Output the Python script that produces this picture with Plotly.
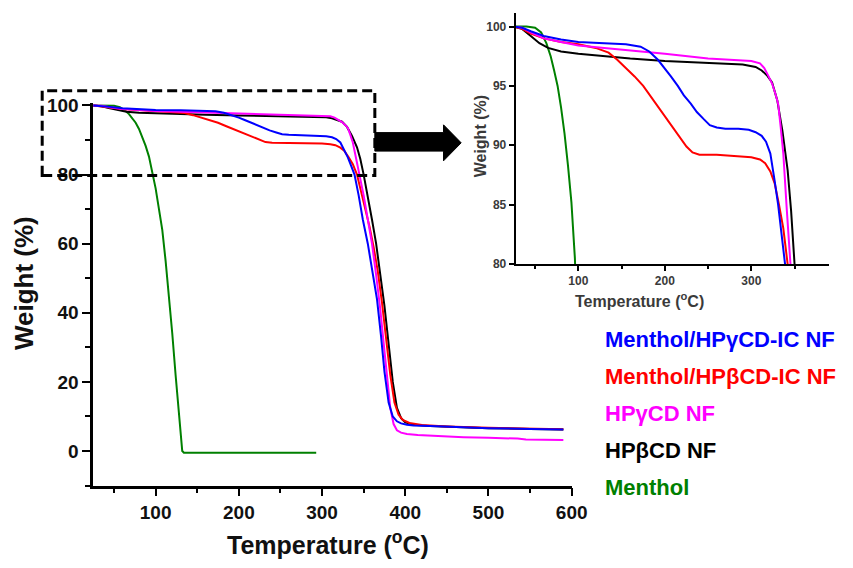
import plotly.graph_objects as go

W_PX, H_PX = 853, 568

# ---------------- data ----------------
menthol_T = [25, 40, 50, 57, 63, 68, 72, 76, 80, 84, 88, 92, 96, 100, 104, 108, 112,
             116, 120, 124, 128, 132, 134, 200, 293]
menthol_W = [100, 100, 99.9, 99.5, 98.6, 97.5, 96.3, 95.0, 93.2, 91.0, 88.3, 85.2, 80.5,
             76, 70, 64, 55, 45, 34, 22, 10, 0, -0.5, -0.5, -0.5]

hpb_T = [25, 35, 45, 55, 65, 80, 100, 130, 160, 200, 230, 260, 290, 305, 312, 318, 324,
         330, 336, 342, 346, 350, 355, 360, 365, 370, 375, 380, 385, 390, 395, 400, 410,
         430, 460, 500, 550, 590]
hpb_W = [100, 99.8, 99.2, 98.6, 98.2, 97.9, 97.7, 97.5, 97.3, 97.1, 97.0, 96.9, 96.8,
         96.6, 96.3, 95.9, 95.3, 93.8, 91.2, 87.9, 84.5, 80, 74, 67, 60, 51, 42, 31, 20,
         12.5, 9.5, 8.3, 7.6, 7.2, 6.9, 6.6, 6.4, 6.2]

hpg_T = [25, 35, 45, 60, 80, 100, 130, 160, 200, 250, 300, 310, 315, 320, 324, 328, 331,
         334, 337, 341, 345, 350, 355, 360, 365, 370, 375, 378, 382, 386, 390, 395, 402,
         415, 440, 470, 500, 535, 545, 590]
hpg_W = [100, 99.9, 99.5, 99.0, 98.7, 98.4, 98.2, 98.0, 97.7, 97.3, 97.1, 96.9, 96.5,
         95.8, 95.2, 94.3, 93.5, 91.5, 89.3, 84.6, 80, 74, 67, 60, 51, 41, 29, 21, 12.5,
         7.8, 6.0, 5.3, 4.9, 4.6, 4.3, 4.0, 3.8, 3.6, 3.3, 3.2]

icb_T = [25, 35, 45, 60, 80, 100, 120, 135, 145, 155, 165, 175, 185, 195, 205, 215, 225,
         232, 240, 260, 280, 300, 310, 316, 322, 327, 332, 337, 342, 347, 352, 357, 362,
         367, 372, 377, 382, 387, 392, 397, 405, 420, 450, 500, 550, 590]
icb_W = [100, 99.8, 99.4, 99.0, 98.7, 98.5, 98.2, 97.8, 97.2, 96.5, 95.8, 95.0, 94.0,
         93.0, 92.0, 91.0, 89.9, 89.4, 89.2, 89.2, 89.1, 89.0, 88.8, 88.5, 87.8, 86.8,
         85.0, 83.0, 80.0, 75, 70, 65, 59, 52, 43, 33, 22, 14, 10.5, 9.0, 8.1, 7.5, 7.1,
         6.7, 6.4, 6.3]

icg_T = [25, 35, 45, 60, 80, 100, 130, 155, 172, 182, 192, 200, 207, 215, 222, 230, 237,
         245, 252, 260, 270, 285, 297, 305, 312, 317, 322, 327, 331, 335, 339, 344, 349,
         355, 360, 366, 371, 375, 380, 385, 390, 395, 402, 410, 430, 460, 500, 550, 590]
icg_W = [100, 99.9, 99.6, 99.2, 98.9, 98.7, 98.6, 98.5, 98.3, 97.9, 97.2, 96.5, 95.8,
         95.0, 94.2, 93.5, 92.8, 92.2, 91.7, 91.5, 91.4, 91.4, 91.3, 91.1, 90.8, 90.3,
         89.3, 87.0, 85.0, 82.5, 80, 74, 67, 60, 53, 44, 33, 23, 14, 10, 8.6, 8.0, 7.6,
         7.4, 7.2, 6.9, 6.6, 6.4, 6.2]

legend_labels = ["Menthol/HPγCD-IC NF", "Menthol/HPβCD-IC NF", "HPγCD NF", "HPβCD NF", "Menthol"]
legend_colors = ["#0000ff", "#ff0000", "#ff00ff", "#000000", "#008000"]

main_x_ticks = [100, 200, 300, 400, 500, 600]
main_y_ticks = [0, 20, 40, 60, 80, 100]
inset_x_ticks = [100, 200, 300]
inset_y_ticks = [80, 85, 90, 95, 100]

series = [  # drawing order: back to front
    (menthol_T, menthol_W, "#008000"),
    (hpb_T, hpb_W, "#000000"),
    (icb_T, icb_W, "#ff0000"),
    (hpg_T, hpg_W, "#ff00ff"),
    (icg_T, icg_W, "#0000ff"),
]


def px(x):
    return x / W_PX


def py(y):
    return 1 - y / H_PX


fig = go.Figure()
for T, Wt, col in series:
    fig.add_trace(go.Scatter(x=T, y=Wt, mode="lines", line=dict(color=col, width=2),
                             xaxis="x", yaxis="y", hoverinfo="skip"))
for T, Wt, col in series:
    fig.add_trace(go.Scatter(x=T, y=Wt, mode="lines", line=dict(color=col, width=2),
                             xaxis="x2", yaxis="y2", hoverinfo="skip"))

FONT = "Liberation Sans, Arial, sans-serif"

main_tick_font = dict(family=FONT, size=19, color="#111111", weight="bold")
inset_tick_font = dict(family=FONT, size=12, color="#3a3a3a", weight="bold")

fig.update_layout(
    width=W_PX, height=H_PX, margin=dict(l=0, r=0, t=0, b=0),
    paper_bgcolor="white", plot_bgcolor="white", showlegend=False,
    xaxis=dict(domain=[px(95), px(582.6)], range=[25, 600], tickvals=main_x_ticks,
               ticks="outside", ticklen=8, tickwidth=2, tickcolor="black",
               showline=True, linecolor="black", linewidth=2.5, showgrid=False,
               zeroline=False, tickfont=main_tick_font, anchor="y",
               minor=dict(ticks="outside", ticklen=5, tickwidth=2, tickcolor="black",
                          tickvals=[50, 150, 250, 350, 450, 550], showgrid=False)),
    yaxis=dict(domain=[py(490.5), py(98)], range=[-10, 100.6], tickvals=main_y_ticks,
               ticks="outside", ticklen=8, tickwidth=2, tickcolor="black",
               showline=True, linecolor="black", linewidth=2.5, showgrid=False,
               zeroline=False, tickfont=main_tick_font, anchor="x",
               minor=dict(ticks="outside", ticklen=5, tickwidth=2, tickcolor="black",
                          tickvals=[-10, 10, 30, 50, 70, 90], showgrid=False)),
    xaxis2=dict(domain=[px(525.5), px(845)], range=[27.5, 390], tickvals=inset_x_ticks,
                ticks="outside", ticklen=5, tickwidth=2, tickcolor="black",
                showline=True, linecolor="black", linewidth=2, showgrid=False,
                zeroline=False, tickfont=inset_tick_font, anchor="y2",
                minor=dict(ticks="outside", ticklen=3, tickwidth=2, tickcolor="black",
                           tickvals=[50, 150, 250, 350], showgrid=False)),
    yaxis2=dict(domain=[py(263), py(5)], range=[80, 101.15], tickvals=inset_y_ticks,
                ticks="outside", ticklen=5, tickwidth=2, tickcolor="black",
                showline=True, linecolor="black", linewidth=2, showgrid=False,
                zeroline=False, tickfont=inset_tick_font, anchor="x2"),
)

# axis titles
ann = []
ann.append(dict(x=px(334), y=py(550), xref="paper", yref="paper", showarrow=False,
                text="<b>Temperature (<sup>o</sup>C)</b>", xanchor="center", yanchor="middle",
                font=dict(family=FONT, size=25, color="#111111")))
ann.append(dict(x=px(24), y=py(283), xref="paper", yref="paper", showarrow=False,
                text="<b>Weight (%)</b>", textangle=-90, xanchor="center", yanchor="middle",
                font=dict(family=FONT, size=26, color="#111111")))
ann.append(dict(x=px(652), y=py(300), xref="paper", yref="paper", showarrow=False,
                text="<b>Temperature (<sup>o</sup>C)</b>", xanchor="center", yanchor="middle",
                font=dict(family=FONT, size=16, color="#3a3a3a")))
ann.append(dict(x=px(490), y=py(132), xref="paper", yref="paper", showarrow=False,
                text="<b>Weight (%)</b>", textangle=-90, xanchor="center", yanchor="middle",
                font=dict(family=FONT, size=16, color="#3a3a3a")))

# legend as coloured text
legend_y = [340, 378, 417, 455, 493]
for lab, col, yy in zip(legend_labels, legend_colors, legend_y):
    ann.append(dict(x=px(615), y=py(yy), xref="paper", yref="paper", showarrow=False,
                    text="<b>" + lab + "</b>", xanchor="left", yanchor="middle",
                    font=dict(family=FONT, size=22, color=col)))
fig.update_layout(annotations=ann)

# dashed zoom box and arrow
shapes = [
    dict(type="rect", xref="paper", yref="paper", x0=px(43), x1=px(382), y0=py(172), y1=py(85),
         line=dict(color="black", width=3, dash="10px,5px"), layer="above"),
]
arrow_pts = [(382, 128), (452, 128), (452, 120), (470, 138.5), (452, 157), (452, 147), (382, 147)]
path = "M " + " L ".join(f"{px(a):.5f},{py(b):.5f}" for a, b in arrow_pts) + " Z"
shapes.append(dict(type="path", xref="paper", yref="paper", path=path,
                   fillcolor="black", line=dict(color="black", width=1), layer="above"))
fig.update_layout(shapes=shapes)

fig.write_html("out.html")
